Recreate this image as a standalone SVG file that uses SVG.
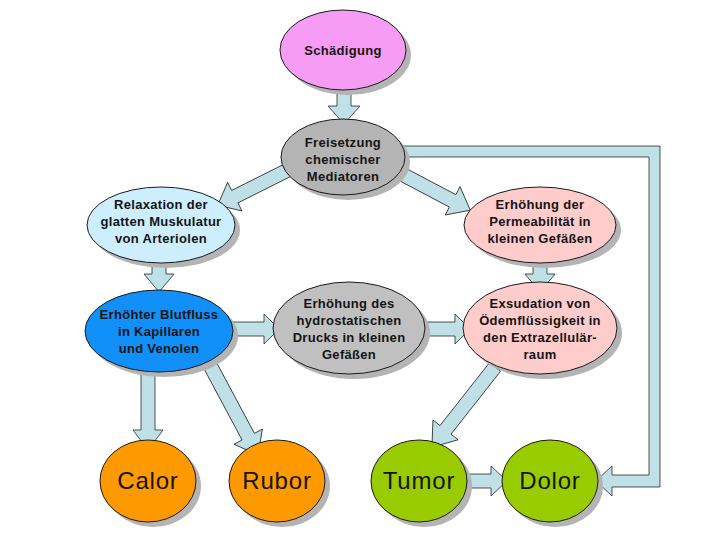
<svg xmlns="http://www.w3.org/2000/svg" width="720" height="540" viewBox="0 0 720 540">
<style>
.sh{fill:#b4b4b4;stroke:none}
.n{stroke:#1a1a1a;stroke-width:1}
.t{font-family:"Liberation Sans",Arial,sans-serif;font-size:13px;font-weight:bold;fill:#141414;text-anchor:middle;letter-spacing:0.3px}
.b{font-family:"Liberation Sans",Arial,sans-serif;font-size:24px;fill:#141414;text-anchor:middle;letter-spacing:0.8px}
.a{fill:#bfe0e6;stroke:#2a2a2a;stroke-width:0.8;stroke-linejoin:miter}
</style>
<rect width="720" height="540" fill="#ffffff"/>
<g id="connectors">
<path class="a" transform="translate(344,86) rotate(90)" d="M0,-7 H20 V-16 L38,0 L20,16 V7 H0 Z"/>
<path class="a" transform="translate(292,168) rotate(153.4)" d="M0,-7 H64 V-16 L83,0 L64,16 V7 H0 Z"/>
<path class="a" transform="translate(396,171) rotate(27.8)" d="M0,-7 H64 V-16 L84,0 L64,16 V7 H0 Z"/>
<path class="a" d="M402,146 H660 V487 H612 V496 L596,481 L612,466 V475 H649 V157 H402 Z"/>
<path class="a" transform="translate(159,259) rotate(90)" d="M0,-7 H15 V-15 L33,0 L15,15 V7 H0 Z"/>
<path class="a" transform="translate(540,259) rotate(90)" d="M0,-7 H15 V-15 L33,0 L15,15 V7 H0 Z"/>
<path class="a" transform="translate(222,329) rotate(0)" d="M0,-7 H42 V-15 L57,0 L42,15 V7 H0 Z"/>
<path class="a" transform="translate(421,329) rotate(0)" d="M0,-7 H34 V-15 L49,0 L34,15 V7 H0 Z"/>
<path class="a" transform="translate(148,368) rotate(90)" d="M0,-7 H62 V-15 L82,0 L62,15 V7 H0 Z"/>
<path class="a" transform="translate(203,352) rotate(61.9)" d="M0,-7 H96 V-16 L117,0 L96,16 V7 H0 Z"/>
<path class="a" transform="translate(495,367) rotate(128.2)" d="M0,-7 H80 V-16 L102,0 L80,16 V7 H0 Z"/>
<path class="a" transform="translate(463,481) rotate(0)" d="M0,-7 H28 V-15 L44,0 L28,15 V7 H0 Z"/>
</g>
<g id="schaedigung">
<ellipse class="sh" cx="348" cy="55" rx="63" ry="40"/>
<ellipse class="n" cx="343" cy="50" rx="63" ry="40" fill="#f79cf5"/>
<text class="t" x="343" y="55">Schädigung</text>
</g>
<g id="freisetzung">
<ellipse class="sh" cx="348" cy="162" rx="62" ry="38"/>
<ellipse class="n" cx="343" cy="157" rx="62" ry="38" fill="#b4b4b4"/>
<text class="t" x="343" y="147">Freisetzung</text>
<text class="t" x="343" y="164">chemischer</text>
<text class="t" x="343" y="181">Mediatoren</text>
</g>
<g id="relaxation">
<ellipse class="sh" cx="166" cy="230" rx="74" ry="38"/>
<ellipse class="n" cx="161" cy="225" rx="74" ry="38" fill="#cdeeff"/>
<text class="t" x="161" y="209">Relaxation der</text>
<text class="t" x="161" y="226">glatten Muskulatur</text>
<text class="t" x="161" y="243">von Arteriolen</text>
</g>
<g id="permeabilitaet">
<ellipse class="sh" cx="545" cy="230" rx="76" ry="38"/>
<ellipse class="n" cx="540" cy="225" rx="76" ry="38" fill="#ffcccc"/>
<text class="t" x="540" y="209">Erhöhung der</text>
<text class="t" x="540" y="226">Permeabilität in</text>
<text class="t" x="540" y="243">kleinen Gefäßen</text>
</g>
<g id="blutfluss">
<ellipse class="sh" cx="164" cy="336" rx="74" ry="41"/>
<ellipse class="n" cx="159" cy="331" rx="74" ry="41" fill="#1090f8"/>
<text class="t" x="159" y="319" fill="#0d1a3a">Erhöhter Blutfluss</text>
<text class="t" x="159" y="336" fill="#0d1a3a">in Kapillaren</text>
<text class="t" x="159" y="353" fill="#0d1a3a">und Venolen</text>
</g>
<g id="hydrostatisch">
<ellipse class="sh" cx="354" cy="333" rx="76" ry="46"/>
<ellipse class="n" cx="349" cy="328" rx="76" ry="46" fill="#c0c0c0"/>
<text class="t" x="349" y="308">Erhöhung des</text>
<text class="t" x="349" y="325">hydrostatischen</text>
<text class="t" x="349" y="342">Drucks in kleinen</text>
<text class="t" x="349" y="359">Gefäßen</text>
</g>
<g id="exsudation">
<ellipse class="sh" cx="545" cy="333" rx="77" ry="46"/>
<ellipse class="n" cx="540" cy="328" rx="77" ry="46" fill="#ffcccc"/>
<text class="t" x="540" y="308">Exsudation von</text>
<text class="t" x="540" y="325">Ödemflüssigkeit in</text>
<text class="t" x="540" y="342">den Extrazellulär-</text>
<text class="t" x="540" y="359">raum</text>
</g>
<g id="calor">
<ellipse class="sh" cx="153" cy="486" rx="48" ry="41"/>
<ellipse class="n" cx="148" cy="481" rx="48" ry="41" fill="#ff9900"/>
<text class="b" x="148" y="489">Calor</text>
</g>
<g id="rubor">
<ellipse class="sh" cx="282" cy="486" rx="48" ry="41"/>
<ellipse class="n" cx="277" cy="481" rx="48" ry="41" fill="#ff9900"/>
<text class="b" x="277" y="489">Rubor</text>
</g>
<g id="tumor">
<ellipse class="sh" cx="424" cy="486" rx="48" ry="41"/>
<ellipse class="n" cx="419" cy="481" rx="48" ry="41" fill="#99cc00"/>
<text class="b" x="419" y="489">Tumor</text>
</g>
<g id="dolor">
<ellipse class="sh" cx="555" cy="486" rx="48" ry="41"/>
<ellipse class="n" cx="550" cy="481" rx="48" ry="41" fill="#99cc00"/>
<text class="b" x="550" y="489">Dolor</text>
</g>
</svg>
